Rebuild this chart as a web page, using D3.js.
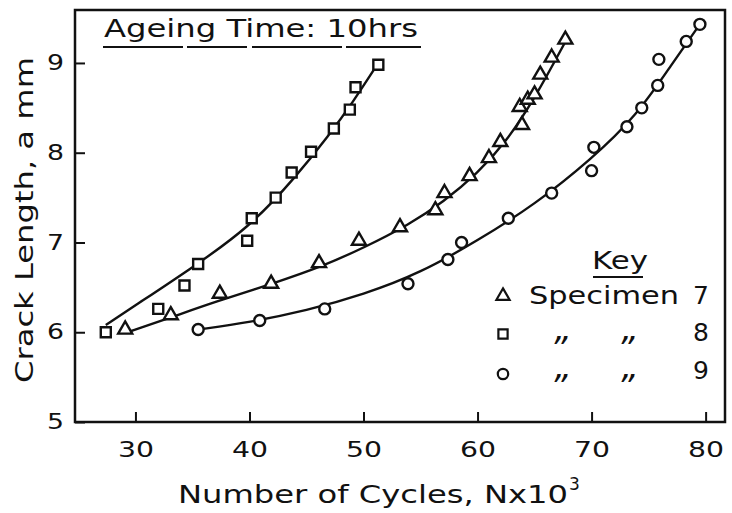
<!DOCTYPE html>
<html>
<head>
<meta charset="utf-8">
<script src="https://cdn.jsdelivr.net/npm/d3@7"></script>
<style>
  body { margin: 0; background: #fff; }
  svg { display: block; }
  text { font-family: "DejaVu Sans", sans-serif; fill: #111; }
</style>
</head>
<body>
<svg width="732" height="513"></svg>
<script>
// specimen 7 (triangles), 8 (squares), 9 (circles) - cycles in thousands, crack length mm
const spec7N = [29.1, 33.1, 37.4, 41.9, 46.1, 49.6, 53.2, 56.3, 57.1, 59.3, 61.0, 62.0, 63.9, 63.7, 64.4, 65.0, 65.5, 66.5, 67.7];
const spec7a = [6.03, 6.19, 6.43, 6.54, 6.77, 7.02, 7.17, 7.36, 7.55, 7.74, 7.94, 8.12, 8.31, 8.51, 8.59, 8.65, 8.87, 9.06, 9.26];

const spec8N = [27.4, 32.0, 34.3, 35.5, 39.8, 40.2, 42.3, 43.7, 45.4, 47.4, 48.8, 49.3, 51.3];
const spec8a = [6.00, 6.26, 6.52, 6.76, 7.02, 7.27, 7.50, 7.78, 8.01, 8.27, 8.48, 8.73, 8.98];

const spec9N = [35.5, 40.9, 46.6, 53.9, 57.4, 58.6, 62.7, 66.5, 70.0, 70.2, 73.1, 74.4, 75.8, 75.9, 78.3, 79.5];
const spec9a = [6.03, 6.13, 6.26, 6.54, 6.81, 7.00, 7.27, 7.55, 7.80, 8.06, 8.29, 8.50, 8.75, 9.04, 9.24, 9.43];

// fitted curves
const fit7N = [29.3, 33, 37, 42, 46.5, 50, 54, 57, 60, 62.5, 65, 67.8];
const fit7a = [6.0, 6.16, 6.34, 6.54, 6.74, 6.94, 7.2, 7.45, 7.77, 8.12, 8.6, 9.26];
const fit8N = [27.4, 30, 35, 40, 44, 47, 49, 51.3];
const fit8a = [6.08, 6.3, 6.72, 7.17, 7.72, 8.2, 8.55, 9.0];
const fit9N = [35.5, 40, 45, 50, 55, 60, 65, 70, 74, 77, 79.6];
const fit9a = [6.03, 6.11, 6.24, 6.42, 6.66, 7.02, 7.42, 7.93, 8.42, 8.98, 9.45];

const xTicks = [30, 40, 50, 60, 70, 80];
const yTicks = [5, 6, 7, 8, 9];

const svg = d3.select("svg");
const margin = {top: 10, right: 7, bottom: 91, left: 75};
const W = 732, H = 513;

const x = d3.scaleLinear().domain([24.7, 81.7]).range([margin.left, W - margin.right]);
const y = d3.scaleLinear().domain([5, 9.59]).range([H - margin.bottom, margin.top]);

// frame
svg.append("rect")
  .attr("x", margin.left).attr("y", margin.top)
  .attr("width", W - margin.left - margin.right)
  .attr("height", H - margin.top - margin.bottom)
  .attr("fill", "none").attr("stroke", "#111").attr("stroke-width", 2.5);

// axes (ticks point inwards)
const xAxis = svg.append("g")
  .attr("transform", `translate(0,${H - margin.bottom})`)
  .call(d3.axisBottom(x).tickValues(xTicks).tickSizeInner(-10).tickSizeOuter(0).tickPadding(20));
const yAxis = svg.append("g")
  .attr("transform", `translate(${margin.left},0)`)
  .call(d3.axisLeft(y).tickValues(yTicks).tickFormat(d3.format("d")).tickSizeInner(-10).tickSizeOuter(0).tickPadding(11));

[xAxis, yAxis].forEach(g => {
  g.select(".domain").remove();
  g.selectAll(".tick line").attr("stroke", "#111").attr("stroke-width", 2);
  g.selectAll(".tick text")
    .style("font-family", "DejaVu Sans, sans-serif")
    .style("font-size", "21px")
    .attr("fill", "#111");
});
// the original lettering is wide, stretch the glyphs
xAxis.selectAll(".tick text").attr("textLength", 36).attr("lengthAdjust", "spacingAndGlyphs");
yAxis.selectAll(".tick text").attr("textLength", 17).attr("lengthAdjust", "spacingAndGlyphs");

// curves
const line = d3.line().x(d => x(d[0])).y(d => y(d[1])).curve(d3.curveBasis);
[[fit7N, fit7a], [fit8N, fit8a], [fit9N, fit9a]].forEach(([n, a]) => {
  svg.append("path")
    .datum(d3.zip(n, a))
    .attr("d", line)
    .attr("fill", "none").attr("stroke", "#111").attr("stroke-width", 2.4);
});

// markers
const marks = [
  {n: spec7N, a: spec7a, type: d3.symbolTriangle, size: 85},
  {n: spec8N, a: spec8a, type: d3.symbolSquare, size: 100},
  {n: spec9N, a: spec9a, type: d3.symbolCircle, size: 95}
];
marks.forEach(m => {
  svg.append("g").selectAll("path")
    .data(d3.zip(m.n, m.a))
    .join("path")
    .attr("transform", d => `translate(${x(d[0])},${y(d[1])})`)
    .attr("d", d3.symbol().type(m.type).size(m.size))
    .attr("fill", "#fff").attr("stroke", "#111").attr("stroke-width", 2.4);
});

// title
svg.append("text")
  .attr("x", 104).attr("y", 37)
  .attr("textLength", 314).attr("lengthAdjust", "spacingAndGlyphs")
  .style("font-size", "24px")
  .text("Ageing  Time: 10hrs");
svg.append("line")
  .attr("x1", 103).attr("x2", 421).attr("y1", 47).attr("y2", 47)
  .attr("stroke", "#111").attr("stroke-width", 2)
  .attr("stroke-dasharray", "80,4,60,5,90,4");

// axis labels
svg.append("text")
  .attr("x", 178).attr("y", 503)
  .attr("textLength", 390).attr("lengthAdjust", "spacingAndGlyphs")
  .style("font-size", "24px")
  .text("Number  of  Cycles, Nx10");
svg.append("text")
  .attr("x", 569).attr("y", 490)
  .style("font-size", "17px")
  .text("3");

svg.append("text")
  .attr("transform", "translate(33,383) rotate(-90)")
  .attr("textLength", 326).attr("lengthAdjust", "spacingAndGlyphs")
  .style("font-size", "25px")
  .text("Crack Length, a mm");

// key
const key = svg.append("g");
key.append("text").attr("x", 592).attr("y", 269)
  .attr("textLength", 56).attr("lengthAdjust", "spacingAndGlyphs")
  .style("font-size", "25px").text("Key");
key.append("line").attr("x1", 593).attr("x2", 643).attr("y1", 277).attr("y2", 277)
  .attr("stroke", "#111").attr("stroke-width", 2);

const keyRows = [
  {type: d3.symbolTriangle, size: 75, label: "Specimen", num: "7", cy: 296, base: 304},
  {type: d3.symbolSquare, size: 85, label: null, num: "8", cy: 334, base: 341},
  {type: d3.symbolCircle, size: 85, label: null, num: "9", cy: 374, base: 379}
];
keyRows.forEach(r => {
  key.append("path")
    .attr("transform", `translate(503,${r.cy})`)
    .attr("d", d3.symbol().type(r.type).size(r.size))
    .attr("fill", "#fff").attr("stroke", "#111").attr("stroke-width", 2.2);
  if (r.label) {
    key.append("text").attr("x", 529).attr("y", r.base)
      .attr("textLength", 150).attr("lengthAdjust", "spacingAndGlyphs")
      .style("font-size", "25px").text(r.label);
  } else {
    [563, 630].forEach(cx => {
      key.append("text").attr("x", cx).attr("y", r.base - 1)
        .attr("text-anchor", "middle")
        .style("font-size", "34px").style("font-style", "italic").text("\u201E");
    });
  }
  key.append("text").attr("x", 701).attr("y", r.base)
    .attr("text-anchor", "middle")
    .style("font-size", "25px").text(r.num);
});
</script>
</body>
</html>
